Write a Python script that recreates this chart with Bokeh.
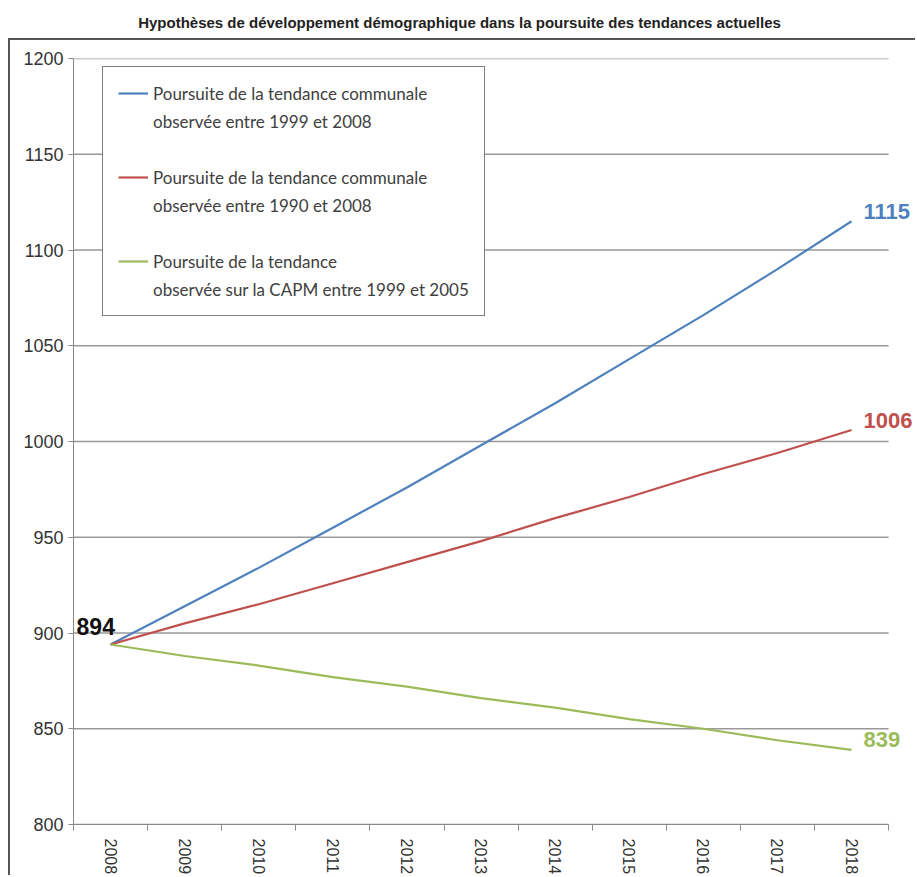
from bokeh.plotting import figure
from bokeh.models import Range1d, FixedTicker, Label, Legend, LegendItem, Div
from bokeh.layouts import column
from bokeh.embed import file_html
from bokeh.resources import INLINE

title_text = "Hypothèses de développement démographique dans la poursuite des tendances actuelles"
years = [2008, 2009, 2010, 2011, 2012, 2013, 2014, 2015, 2016, 2017, 2018]
blue = [894, 914, 934, 955, 976, 998, 1020, 1043, 1066, 1090, 1115]
red = [894, 905, 915, 926, 937, 948, 960, 971, 983, 994, 1006]
green = [894, 888, 883, 877, 872, 866, 861, 855, 850, 844, 839]
y_ticks = [800, 850, 900, 950, 1000, 1050, 1100, 1150, 1200]
label_lines = [
    ["Poursuite de la tendance communale", "observée entre 1999 et 2008"],
    ["Poursuite de la tendance communale", "observée entre 1990 et 2008"],
    ["Poursuite de la tendance", "observée sur la CAPM entre 1999 et 2005"],
]
colors = ["#4F81BD", "#C0504D", "#9BBB59"]

title = Div(text=title_text, width=909, height=28,
            styles={"font-family": "Liberation Sans", "font-weight": "bold",
                    "font-size": "15px", "text-align": "center", "line-height": "36px",
                    "color": "#222"})

p = figure(width=907, height=837, output_backend="svg", toolbar_location=None,
           x_range=Range1d(years[0] - 0.5, years[-1] + 0.89), y_range=Range1d(y_ticks[0], y_ticks[-1]),
           min_border_left=63, min_border_right=0, min_border_top=18, min_border_bottom=53,
           styles={"border-left": "2px solid #555", "border-top": "2px solid #555",
                   "margin-left": "8px"})
p.outline_line_color = None
p.background_fill_color = "white"

p.xgrid.visible = False
p.ygrid.visible = False
n = len(y_ticks)
p.segment(x0=[years[0] - 0.5] * n, x1=[years[-1] + 0.5] * n, y0=y_ticks, y1=y_ticks,
          line_color="#999999", line_width=1.5)

renderers = []
for series, c in zip([blue, red, green], colors):
    renderers.append(p.line(years, series, line_color=c, line_width=2.2))
blank = p.line([], [], line_alpha=0)

p.yaxis.ticker = FixedTicker(ticks=y_ticks, minor_ticks=[])
p.yaxis.major_tick_out = 5
p.yaxis.major_tick_in = 0
p.yaxis.axis_line_color = "#888888"
p.yaxis.major_tick_line_color = "#888888"
p.yaxis.major_label_text_font = "Liberation Sans"
p.yaxis.major_label_text_font_size = "18px"
p.yaxis.major_label_text_color = "#333333"
p.yaxis.major_label_standoff = 5

p.xaxis.ticker = FixedTicker(ticks=years, minor_ticks=[y - 0.5 for y in years] + [years[-1] + 0.5])
p.xaxis.bounds = (years[0] - 0.5, years[-1] + 0.5)
p.xaxis.major_tick_out = 0
p.xaxis.major_tick_in = 0
p.xaxis.minor_tick_out = 6
p.xaxis.minor_tick_in = 0
p.xaxis.axis_line_color = "#888888"
p.xaxis.minor_tick_line_color = "#888888"
p.xaxis.major_label_orientation = "vertical"
p.xaxis.major_label_text_font = "Liberation Sans"
p.xaxis.major_label_text_font_size = "16px"
p.xaxis.major_label_text_color = "#333333"
p.xaxis.major_label_standoff = 8

items = []
for k, (lines, r) in enumerate(zip(label_lines, renderers)):
    items.append(LegendItem(label=lines[0], renderers=[r]))
    items.append(LegendItem(label=lines[1], renderers=[blank]))
    if k < len(label_lines) - 1:
        items.append(LegendItem(label=" ", renderers=[blank]))

legend = Legend(items=items, location=(29, 508))
legend.border_line_color = "black"
legend.border_line_width = 1.5
legend.background_fill_alpha = 1
legend.padding = 15
legend.spacing = 6
legend.glyph_width = 30
legend.glyph_height = 22
legend.label_height = 22
legend.label_standoff = 5
legend.label_text_font = "Lato"
legend.label_text_font_size = "17px"
legend.label_text_color = "#404040"
legend.margin = 0
p.add_layout(legend)

for series, c in zip([blue, red, green], colors):
    p.add_layout(Label(x=years[-1], y=series[-1], text=str(series[-1]), x_offset=12, y_offset=10,
                       text_baseline="middle", text_font="Liberation Sans", text_font_style="bold",
                       text_font_size="22px", text_color=c))
p.add_layout(Label(x=years[0], y=blue[0], text=str(blue[0]), x_offset=-34, y_offset=18,
                   text_baseline="middle", text_font="Liberation Sans", text_font_style="bold",
                   text_font_size="23px", text_color="#111111"))

layout = column(title, p, spacing=0)
open("out.html", "w").write(file_html(layout, INLINE))
